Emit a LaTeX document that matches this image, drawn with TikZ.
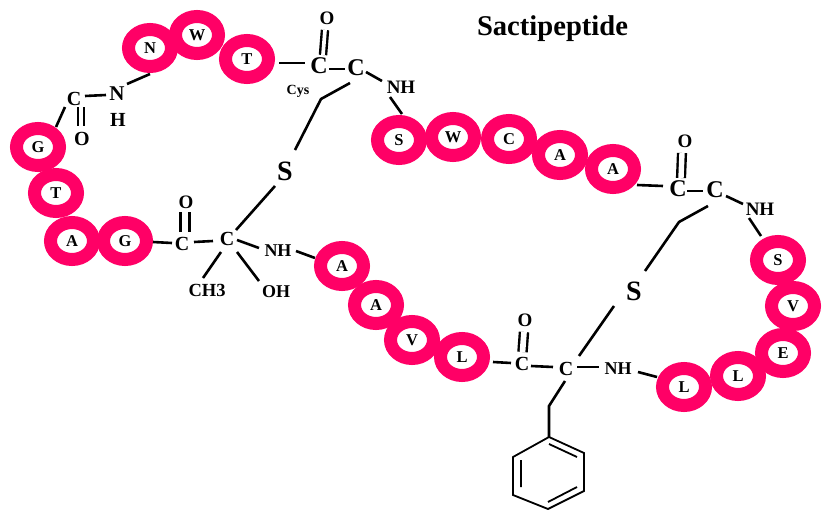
\documentclass[tikz,border=0pt]{standalone}
\usepackage{fontspec}
\setmainfont{Liberation Serif}
\usetikzlibrary{shapes.geometric}
\definecolor{ringpink}{RGB}{255,0,102}
\newcommand{\fs}[1]{\fontsize{#1}{#1}\selectfont\bfseries}
\newcommand{\conn}[5][bond]{\draw[#1] ([shift={(#3)}]#2.center) -- ([shift={(#5)}]#4.center);}
\tikzset{
  ring/.style={ellipse,draw=ringpink,line width=13pt,fill=white,minimum width=43pt,minimum height=37pt,inner sep=0pt,font=\fs{16.5}},
  lab/.style={inner sep=0pt,outer sep=2.5pt,font=\fs{#1}},
  lab/.default=19,
  bond/.style={draw=black,line width=2.6pt},
  dbl/.style={draw=black,line width=2.4pt,double=white,double distance=#1,line cap=butt},
  benz/.style={draw=black,line width=1.8pt,line join=miter},
}
\begin{document}
\begin{tikzpicture}[x=1pt,y=1pt]
\useasboundingbox (0,0) rectangle (831,-522);
% title
\node[lab=28.6] (title) at (552.5,-29) {Sactipeptide};
% residues
\foreach \n/\x/\y/\t in {r1/38/147/G,r2/56/193/T,r3/72/241/A,r4/125/241/G,
  r5/150/48/N,r6/197/35/W,r7/247/59/T,
  r8/399/140/S,r9/453/137/W,r10/509/139/C,r11/560/155/A,r12/613/169/A,
  r13/778/260/S,r14/793/306/V,r15/783/353/E,r16/738/376/L,r17/684/387/L,
  r18/342/266/A,r19/376/305/A,r20/412/340/V,r21/462/357/L}
  \node[ring] (\n) at (\x,-\y) {\t};
% first loop
\node[lab=20] (c1) at (74,-99) {C};
\node[lab=20] (o1) at (82,-139) {O};
\node[lab=21] (n1) at (117,-94) {N};
\node[lab=20] (h1) at (118,-120) {H};
\node[lab=24] (c2) at (319,-66) {C};
\node[lab=24] (c3) at (356,-68) {C};
\node[lab=19] (o2) at (327,-18) {O};
\node[lab=14] (cys) at (298,-91) {Cys};
\node[lab=19] (nh1) at (401,-87) {NH};
\node[lab=28] (s1) at (285,-171) {S};
\node[lab=20] (c4) at (227,-239) {C};
\node[lab=20] (c5) at (182,-244) {C};
\node[lab=19] (o3) at (186,-202) {O};
\node[lab=18] (nh2) at (278,-251) {NH};
\node[lab=18.5] (ch3) at (207,-290) {CH3};
\node[lab=18] (oh) at (276,-292) {OH};
% second loop
\node[lab=24] (c6) at (678,-189) {C};
\node[lab=24] (c7) at (715,-190) {C};
\node[lab=19] (o4) at (685,-141) {O};
\node[lab=19] (nh3) at (760,-209) {NH};
\node[lab=28] (s2) at (634,-291) {S};
\node[lab=20] (c8) at (566,-369) {C};
\node[lab=20] (c9) at (522,-364) {C};
\node[lab=19] (o5) at (525,-320) {O};
\node[lab=18] (nh4) at (618,-369) {NH};
% bend points
\coordinate (b1) at (321,-99);
\coordinate (b2) at (679,-222);
\coordinate (b3) at (549,-406);
% benzene
\coordinate (p1) at (549,-437);
\coordinate (p2) at (584,-453);
\coordinate (p3) at (584,-491);
\coordinate (p4) at (548,-509);
\coordinate (p5) at (513,-495);
\coordinate (p6) at (513,-457);
\coordinate (q1) at (549,-444);
\coordinate (q2) at (577,-457);
\coordinate (q3) at (577,-487);
\coordinate (q4) at (548,-502);
\coordinate (q5) at (521,-487);
\coordinate (q6) at (521,-460);
\draw[benz] (p1)--(p2)--(p3)--(p4)--(p5)--(p6)--cycle;
\draw[benz] (q1)--(q2) (q3)--(q4) (q5)--(q6);
% connectors, first loop
\conn{r1}{18,20}{c1}{-9,-8}
\conn[dbl=3.9pt]{c1}{7,-8}{o1}{-1,13}
\conn{c1}{11,3}{n1}{-11,-1}
\conn{n1}{10,10}{r5}{0,-26}
\conn{r7}{32,-4}{c2}{-14,3}
\conn[dbl=3.7pt]{c2}{4,11}{o2}{-2,-12}
\conn{c2}{10,-3}{c3}{-11,-1}
\conn{c3}{10,-4}{nh1}{-19,6}
\conn{nh1}{-11,-10}{r8}{3,26}
\draw[bond,line join=miter] ([shift={(-6,-15)}]c3.center) -- (b1) -- ([shift={(10,21)}]s1.center);
\conn{s1}{-10,-15}{c4}{9,9}
\conn{r4}{28,-1}{c5}{-10,1}
\conn[dbl=6.8pt]{c5}{3,12}{o3}{-1,-10}
\conn{c5}{12,2}{c4}{-14,-2}
\conn{c4}{10,-1}{nh2}{-19,3}
\conn{nh2}{18,0}{r18}{-27,8}
\conn{c4}{-6,-13}{ch3}{-4,12}
\conn{c4}{10,-13}{oh}{-17,11}
% connectors, second loop
\conn{r12}{24,-16}{c6}{-15,3}
\conn[dbl=5.4pt]{c6}{3,11}{o4}{-3,-12}
\conn{c6}{9,-2}{c7}{-12,-1}
\conn{c7}{11,-6}{nh3}{-17,5}
\conn{nh3}{-11,-9}{r13}{-17,24}
\draw[bond,line join=miter] ([shift={(-7,-16)}]c7.center) -- (b2) -- ([shift={(11,20)}]s2.center);
\conn{s2}{-20,-15}{c8}{13,13}
\conn{r21}{31,-5}{c9}{-11,1}
\conn[dbl=5.7pt]{c9}{0.5,12}{o5}{-1,-12}
\conn{c9}{9,-2}{c8}{-13,2}
\conn{c8}{11,2}{nh4}{-19,2}
\conn{nh4}{20,-3}{r17}{-27,10}
\draw[bond,line join=miter] ([shift={(-1,-12)}]c8.center) -- (b3) -- (p1);
\end{tikzpicture}
\end{document}
